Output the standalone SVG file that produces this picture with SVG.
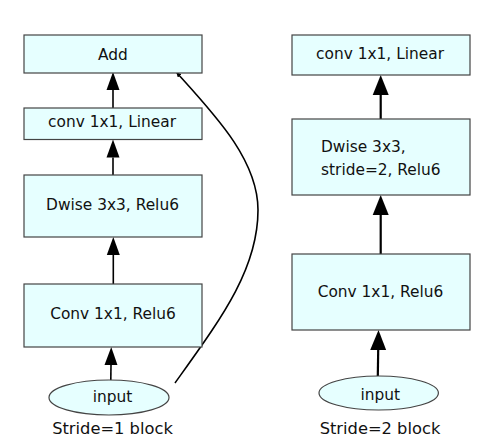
<svg xmlns="http://www.w3.org/2000/svg" width="499" height="444" viewBox="0 0 499 444">
<defs>
<style>
.box{fill:#e6ffff;stroke:#444;stroke-width:1.2}
.t{font-family:"DejaVu Sans",sans-serif;font-size:15.4px;fill:#111}
.c{text-anchor:middle}
.lbl{font-family:"DejaVu Sans",sans-serif;font-size:16.3px;fill:#111;text-anchor:middle}
.a1{stroke:#000;stroke-width:1.6;fill:none}
.a2{stroke:#000;stroke-width:2.2;fill:none}
</style>
<marker id="h1" markerUnits="userSpaceOnUse" markerWidth="19" markerHeight="14" refX="0" refY="7" orient="auto" viewBox="0 0 19 14"><path d="M0,0.5 L18,7 L0,13.5 z" fill="#000"/></marker>
<marker id="h2" markerUnits="userSpaceOnUse" markerWidth="21" markerHeight="17" refX="0" refY="8.5" orient="auto" viewBox="0 0 21 17"><path d="M0,0.5 L20,8.5 L0,16.5 z" fill="#000"/></marker>
<marker id="h3" markerUnits="userSpaceOnUse" markerWidth="5" markerHeight="5" refX="4" refY="2.5" orient="auto" viewBox="0 0 5 5"><path d="M0,0 L5,2.5 L0,5 z" fill="#000"/></marker>
</defs>
<rect width="499" height="444" fill="#fff"/>
<g id="connectors">
<path class="a1" d="M113,108 L113,90" marker-end="url(#h1)"/>
<path class="a1" d="M113,175 L113,157.5" marker-end="url(#h1)"/>
<path class="a1" d="M113.3,284 L113.3,255" marker-end="url(#h1)"/>
<path class="a1" d="M110.8,380 L111,365" marker-end="url(#h1)"/>
<path class="a1" d="M175,383 C220,320 258,270 258,210 C258,160 215,115 177,73" marker-end="url(#h3)"/>
<path class="a2" d="M380.7,119 L380.7,95" marker-end="url(#h2)"/>
<path class="a2" d="M380.7,254 L380.7,215" marker-end="url(#h2)"/>
<path class="a2" d="M377.8,376 L378.2,350" marker-end="url(#h2)"/>
</g>
<g id="add"><rect class="box" x="24" y="35" width="178" height="38"/><text class="t c" x="113" y="60">Add</text></g>
<g id="conv-linear-1"><rect class="box" x="24" y="108" width="178" height="31.5"/><text class="t c" x="112" y="127">conv 1x1, Linear</text></g>
<g id="dwise-1"><rect class="box" x="24" y="175" width="178" height="62"/><text class="t c" x="112.5" y="210">Dwise 3x3, Relu6</text></g>
<g id="conv-relu-1"><rect class="box" x="24" y="284" width="178" height="63"/><text class="t c" x="113" y="319">Conv 1x1, Relu6</text></g>
<g id="input-1"><ellipse class="box" cx="109" cy="397.5" rx="60" ry="17.5"/><text class="t c" x="112.5" y="402">input</text></g>
<text class="lbl" x="112.5" y="434">Stride=1 block</text>
<g id="conv-linear-2"><rect class="box" x="292" y="35" width="178" height="40"/><text class="t c" x="380" y="58.5">conv 1x1, Linear</text></g>
<g id="dwise-2"><rect class="box" x="292" y="119" width="178" height="76"/><text class="t" x="321" y="152">Dwise 3x3,</text><text class="t" x="321" y="174.5">stride=2, Relu6</text></g>
<g id="conv-relu-2"><rect class="box" x="292" y="254" width="178" height="76"/><text class="t c" x="380.5" y="297">Conv 1x1, Relu6</text></g>
<g id="input-2"><ellipse class="box" cx="378.7" cy="393" rx="59.7" ry="17"/><text class="t c" x="380.3" y="399.5">input</text></g>
<text class="lbl" x="380" y="434">Stride=2 block</text>
</svg>
